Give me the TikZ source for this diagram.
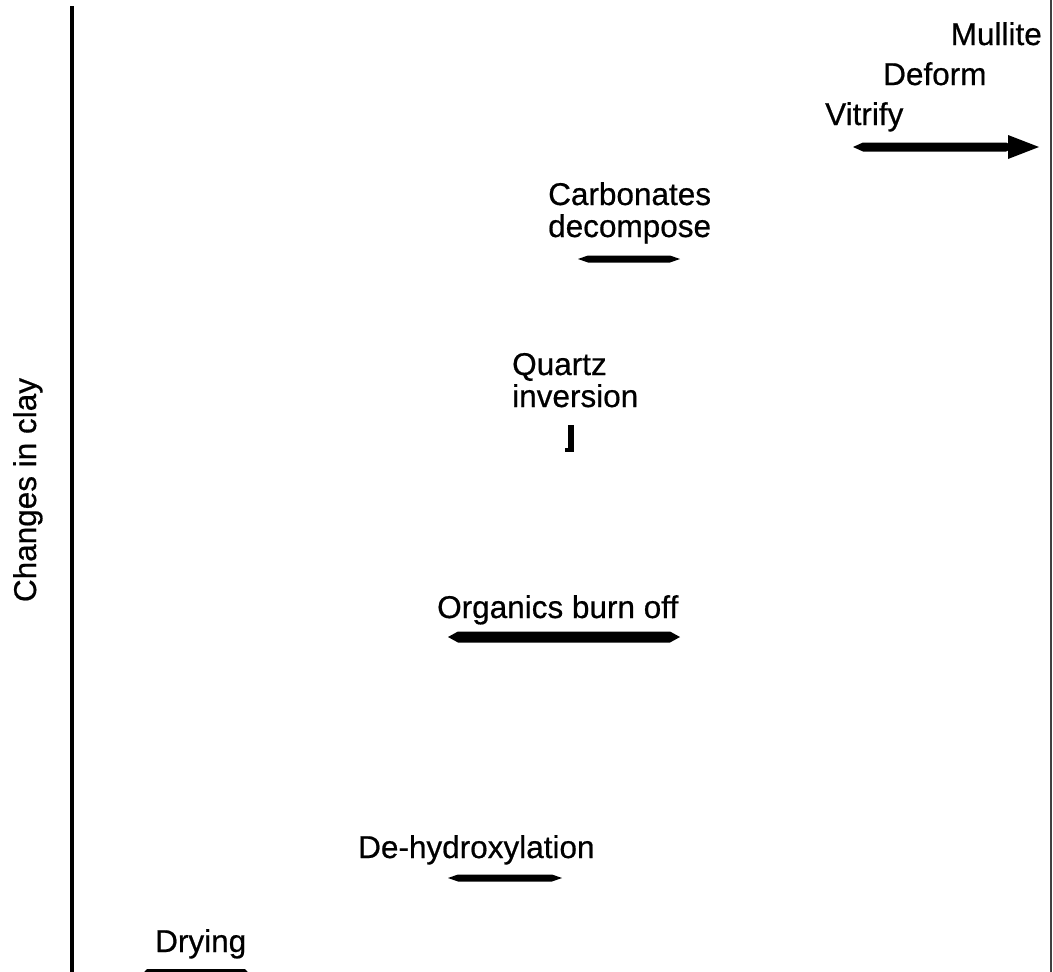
\documentclass[tikz,border=0pt]{standalone}
\usepackage{fontspec}
\setmainfont{Liberation Sans}[FakeBold=0.6,BoldFont={Liberation Sans}]
\newcommand\taperbar[4]{\fill[barfill] (#1,#3) -- ({#1+10},{#3-#4/2}) -- ({#2-10},{#3-#4/2}) -- (#2,#3) -- ({#2-10},{#3+#4/2}) -- ({#1+10},{#3+#4/2}) -- cycle;}
\tikzset{
  lbl/.style={inner sep=0pt, anchor=base west, font=\fontsize{31.5}{33}\selectfont\bfseries},
  barfill/.style={black},
  axis/.style={line width=4pt, black},
  border/.style={line width=1.5pt, black!75}
}
\begin{document}
\begin{tikzpicture}[x=1pt,y=-1pt]
\useasboundingbox (0,0) rectangle (1053,972);
\fill[white] (0,0) rectangle (1053,972);
\clip (0,0) rectangle (1053,972);
% axes
\coordinate (axtop) at (72,6);
\coordinate (axbot) at (72,972);
\draw[axis] (axtop) -- (axbot);
\coordinate (rtop) at (1051,0);
\coordinate (rbot) at (1051,972);
\draw[border] (rtop) -- (rbot);
% y label
\node[inner sep=0pt, anchor=base, rotate=90, font=\fontsize{31.5}{33}\selectfont] (ylab) at (36,490) {Changes in clay};
% labels
\node[lbl, anchor=base east] (mullite) at (1042,45) {Mullite};
\node[lbl] (deform) at (883,85) {Deform};
\node[lbl] (vitrify) at (825,125) {Vitrify};
\node[lbl] (carb) at (548,205) {Carbonates};
\node[lbl] (decomp) at (548,237) {decompose};
\node[lbl] (quartz) at (512,375) {Quartz};
\node[lbl] (inver) at (512,407) {inversion};
\node[lbl] (organ) at (437,618) {Organics burn off};
\node[lbl] (dehyd) at (358,858) {De-hydroxylation};
\node[lbl] (dry) at (155,952) {Drying};
% bars
\taperbar{853}{1016}{147}{9}
\fill[barfill] (1008,135) -- (1039,147) -- (1008,159) -- cycle;
\taperbar{578}{680}{259}{7}
\fill[barfill] (568,425) rectangle (574,452);
\fill[barfill] (565,448) rectangle (574,452);
\taperbar{448}{680}{637}{11}
\taperbar{448}{562}{878}{7}
\taperbar{137}{255}{980}{22}
\end{tikzpicture}
\end{document}
